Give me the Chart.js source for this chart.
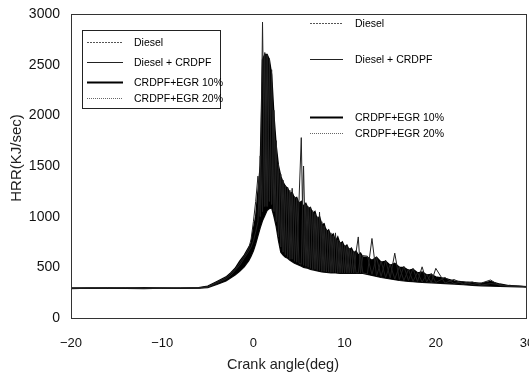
<!DOCTYPE html>
<html>
<head>
<meta charset="utf-8">
<script src="https://cdn.jsdelivr.net/npm/chart.js@4/dist/chart.umd.min.js"></script>
<style>
  body { margin: 0; background: #fff; }
</style>
</head>
<body>
<canvas id="myChart" width="529" height="374"></canvas>
<script>
// crank angle (deg), shared by all four series
var crankAngle = [
  -20, -18, -16, -14, -12, -10, -8, -6,
  -5, -4, -3, -2.5, -2, -1.5, -1, -0.5,
  -0.25, 0, 0.25, 0.5, 0.75, 1, 1.25, 1.5, 1.75, 2,
  2.25, 2.5, 2.75, 3, 3.25, 3.5, 3.75, 4, 4.25, 4.5,
  4.75, 5, 5.25, 5.5, 5.75, 6, 6.25, 6.5, 6.75, 7,
  7.25, 7.5, 7.75, 8, 8.25, 8.5, 8.75, 9, 9.25, 9.5,
  9.75, 10, 10.25, 10.5, 10.75, 11, 11.25, 11.5, 11.75, 12,
  12.5, 13, 13.5, 14, 14.5, 15, 15.5, 16, 16.5, 17, 17.5, 18, 18.5, 19, 19.5, 20,
  21, 22, 23, 24, 25, 26, 27, 28, 29, 30
];

// HRR (kJ/sec)
var diesel = [
  298, 295, 300, 296, 294, 298, 295, 297,
  310, 355, 400, 440, 480, 545, 610, 690,
  780, 950, 1150, 1400, 1000, 2920, 1100, 2600, 1150, 2450,
  1050, 1750, 800, 1420, 650, 1310, 600, 1260, 580, 1200,
  550, 1160, 1780, 520, 1120, 500, 1090, 480, 1030, 470,
  1045, 460, 910, 455, 860, 450, 810, 450, 770, 445,
  740, 445, 710, 445, 670, 445, 645, 800, 445, 615,
  610, 430, 600, 410, 570, 395, 640, 380, 510, 370, 490, 360, 505, 355, 440, 350,
  400, 340, 360, 330, 345, 375, 320, 318, 312, 310
];
var dieselCrdpf = [
  292, 297, 293, 299, 296, 292, 298, 294,
  305, 345, 385, 420, 470, 520, 590, 660,
  700, 760, 850, 950, 1600, 1050, 2620, 1100, 2560, 1120,
  2050, 950, 1520, 700, 1360, 620, 1290, 580, 1280, 560,
  1180, 540, 530, 1500, 510, 1100, 490, 1060, 480, 1000,
  470, 950, 460, 880, 455, 840, 450, 840, 445, 750,
  445, 720, 445, 690, 445, 660, 445, 445, 625, 445,
  435, 785, 415, 560, 400, 530, 385, 505, 370, 480, 362, 450, 355, 430, 350, 490,
  345, 380, 335, 355, 325, 340, 330, 312, 316, 308
];
var crdpfEgr10 = [
  295, 293, 297, 294, 299, 295, 293, 299,
  315, 360, 405, 445, 490, 560, 620, 700,
  740, 880, 1000, 1250, 1500, 2550, 2600, 2600, 2550, 2400,
  2000, 1700, 1500, 1400, 1340, 1300, 1280, 1230, 1240, 1180,
  1190, 1130, 1150, 1100, 1130, 1080, 1090, 1030, 1050, 970,
  1000, 920, 930, 850, 870, 810, 830, 760, 800, 730,
  750, 700, 720, 670, 690, 640, 660, 620, 640, 600,
  600, 570, 600, 550, 560, 520, 540, 500, 500, 470, 480, 445, 455, 425, 430, 405,
  390, 365, 355, 350, 340, 360, 335, 320, 315, 310
];
var crdpfEgr20 = [
  290, 294, 291, 293, 290, 294, 291, 295,
  300, 330, 365, 395, 425, 460, 505, 565,
  610, 660, 730, 810, 890, 960, 1010, 1060, 1080, 1085,
  1000, 900, 760, 650, 620, 600, 590, 570, 555, 540,
  530, 520, 510, 500, 495, 490, 480, 475, 470, 465,
  460, 455, 452, 450, 448, 445, 445, 445, 442, 440,
  440, 440, 440, 440, 440, 440, 440, 440, 440, 440,
  430, 420, 410, 400, 392, 385, 378, 370, 365, 360, 358, 355, 352, 350, 347, 345,
  340, 335, 328, 322, 318, 315, 312, 310, 308, 305
];

var seriesNames = ['Diesel', 'Diesel + CRDPF', 'CRDPF+EGR 10%', 'CRDPF+EGR 20%'];
var xTicks = [-20, -10, 0, 10, 20, 30];
var yTicks = [0, 500, 1000, 1500, 2000, 2500, 3000];
var xTitle = 'Crank angle(deg)';
var yTitle = 'HRR(KJ/sec)';

var fontName = '"Liberation Sans", Arial, sans-serif';

// legend sample styles
var sampleStyle = [
  { color: '#555', width: 1, dash: [2, 1] },
  { color: '#222', width: 1, dash: [] },
  { color: '#000', width: 1.8, dash: [] },
  { color: '#666', width: 1, dash: [1, 1] }
];

function toPoints(values) {
  return crankAngle.map(function (c, i) { return { x: c, y: values[i] }; });
}

var data = {
  datasets: [{
    label: seriesNames[0],
    data: toPoints(diesel),
    borderColor: '#222',
    borderWidth: 1
  }, {
    label: seriesNames[1],
    data: toPoints(dieselCrdpf),
    borderColor: '#222',
    borderWidth: 1
  }, {
    label: seriesNames[2],
    data: toPoints(crdpfEgr10),
    borderColor: '#000',
    borderWidth: 1.4,
    // the traces overlap so densely that the band between them reads as solid black
    fill: '+1',
    backgroundColor: '#000'
  }, {
    label: seriesNames[3],
    data: toPoints(crdpfEgr20),
    borderColor: '#111',
    borderWidth: 1.2
  }]
};

// frame round the plot, axis titles and the two legends
var framePlugin = {
  id: 'frame',
  afterDraw: function (chart) {
    var ctx = chart.ctx;
    var a = chart.chartArea;
    ctx.save();
    ctx.strokeStyle = '#333';
    ctx.lineWidth = 1;
    ctx.strokeRect(Math.round(a.left) + 0.5, Math.round(a.top) + 0.5,
      Math.round(a.right - a.left) - 1, Math.round(a.bottom - a.top));

    // axis titles (the scanned original has them a bit off centre)
    ctx.fillStyle = '#222';
    ctx.textAlign = 'center';
    ctx.textBaseline = 'middle';
    ctx.font = '14.5px ' + fontName;
    ctx.fillText(xTitle, 283, 365);
    ctx.save();
    ctx.translate(17, 158);
    ctx.rotate(-Math.PI / 2);
    ctx.font = '15px ' + fontName;
    ctx.fillText(yTitle, 0, 0);
    ctx.restore();

    function entry(label, st, x1, x2, y, tx) {
      ctx.strokeStyle = st.color;
      ctx.lineWidth = st.width;
      ctx.setLineDash(st.dash);
      ctx.beginPath();
      ctx.moveTo(x1, y + 0.5);
      ctx.lineTo(x2, y + 0.5);
      ctx.stroke();
      ctx.setLineDash([]);
      ctx.fillStyle = '#000';
      ctx.font = '10.5px ' + fontName;
      ctx.textBaseline = 'middle';
      ctx.textAlign = 'left';
      ctx.fillText(label, tx, y + 1);
    }

    var sets = chart.data.datasets;
    // boxed legend, upper left
    ctx.strokeStyle = '#222';
    ctx.lineWidth = 1;
    ctx.strokeRect(82.5, 30.5, 138, 78);
    var rowsLeft = [42, 62, 82, 98];
    for (var i = 0; i < sets.length; i++) {
      entry(sets[i].label, sampleStyle[i], 87, 123, rowsLeft[i], 134);
    }
    // second legend, upper right
    var rowsRight = [23, 59, 117, 133];
    for (var j = 0; j < sets.length; j++) {
      entry(sets[j].label, sampleStyle[j], 310, 343, rowsRight[j], 355);
    }
    ctx.restore();
  }
};

var config = {
  type: 'line',
  data: data,
  options: {
    responsive: false,
    animation: false,
    layout: { padding: { left: 0, right: 2, top: 14, bottom: 0 } },
    elements: { point: { radius: 0 }, line: { tension: 0 } },
    plugins: { legend: { display: false }, tooltip: { enabled: false } },
    scales: {
      x: {
        type: 'linear',
        min: -20,
        max: 30,
        afterBuildTicks: function (s) { s.ticks = xTicks.map(function (v) { return { value: v }; }); },
        afterFit: function (s) { s.height = 56; s.paddingLeft = 0; s.paddingRight = 0; },
        grid: { display: false, drawTicks: false },
        border: { display: false },
        ticks: {
          padding: 18,
          color: '#111',
          font: { family: fontName, size: 13 },
          callback: function (v) { return String(v).replace('-', '\u2212'); }
        },
        title: { display: false }
      },
      y: {
        min: 0,
        max: 3000,
        afterBuildTicks: function (s) { s.ticks = yTicks.map(function (v) { return { value: v }; }); },
        afterFit: function (s) { s.width = 71; s.paddingTop = 0; s.paddingBottom = 0; },
        grid: { display: false, drawTicks: false },
        border: { display: false },
        ticks: {
          padding: 11,
          color: '#111',
          font: { family: fontName, size: 14 },
          callback: function (v) { return String(v); }
        },
        title: { display: false }
      }
    }
  },
  plugins: [framePlugin]
};

var myChart = new Chart(document.getElementById('myChart'), config);
</script>
</body>
</html>
